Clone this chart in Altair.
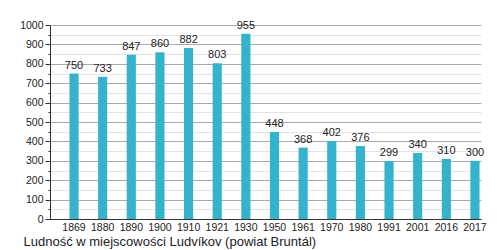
import altair as alt
import pandas as pd

years = ["1869", "1880", "1890", "1900", "1910", "1921", "1930", "1950",
         "1961", "1970", "1980", "1991", "2001", "2016", "2017"]
population = [750, 733, 847, 860, 882, 803, 955, 448, 368, 402, 376, 299, 340, 310, 300]
y_ticks = list(range(0, 1001, 50))
title_text = "Ludność w miejscowości Ludvíkov (powiat Bruntál)"

df = pd.DataFrame({"year": years, "pop": population})

FONT = "Liberation Sans"

x_enc = alt.X(
    "year:N",
    sort=years,
    scale=alt.Scale(paddingInner=0.68, paddingOuter=0.365, align=0.93),
    axis=alt.Axis(
        title=title_text,
        labelAngle=0,
        ticks=False,
        labelOverlap=False,
        labelPadding=3,
        labelFontSize=10.5,
        labelColor="#222",
        domainColor="#333",
        titleFontSize=13,
        titleFontWeight="normal",
        titleColor="#222",
        titleAnchor="start",
        titleAlign="left",
        titleBaseline="alphabetic",
        titleX=-27,
        titleY=26,
        grid=False,
    ),
)

y_enc = alt.Y(
    "pop:Q",
    scale=alt.Scale(domain=[0, 1000], nice=False),
    axis=alt.Axis(
        title=None,
        values=y_ticks,
        format="d",
        labelOverlap=False,
        labelExpr="datum.value % 100 === 0 ? datum.label : ''",
        labelFontSize=10.5,
        labelColor="#222",
        labelPadding=2,
        tickColor="#333",
        tickSize={"condition": {"test": "datum.value % 100 === 0", "value": 5}, "value": 2},
        domainColor="#333",
        grid=True,
        gridColor={"condition": {"test": "datum.value % 100 === 0", "value": "#aaaaaa"}, "value": "#e4e4e4"},
        gridWidth=1,
    ),
)

base = alt.Chart(df).encode(x=x_enc, y=y_enc)

bars = base.mark_bar(color="#35b3cd")

labels = base.mark_text(
    baseline="bottom", dy=-3, fontSize=11, font=FONT, color="#222"
).encode(text="pop:Q")

chart = (
    alt.layer(bars, labels)
    .properties(
        width=431,
        height=194,
        padding={"left": 50, "top": 25, "right": 19, "bottom": 31},
        autosize="none",
    )
    .configure(font=FONT)
    .configure_view(stroke=None)
    .configure_axis(labelFont=FONT, titleFont=FONT)
)

chart.save("out.html", embed_options={"renderer": "svg", "actions": False})
